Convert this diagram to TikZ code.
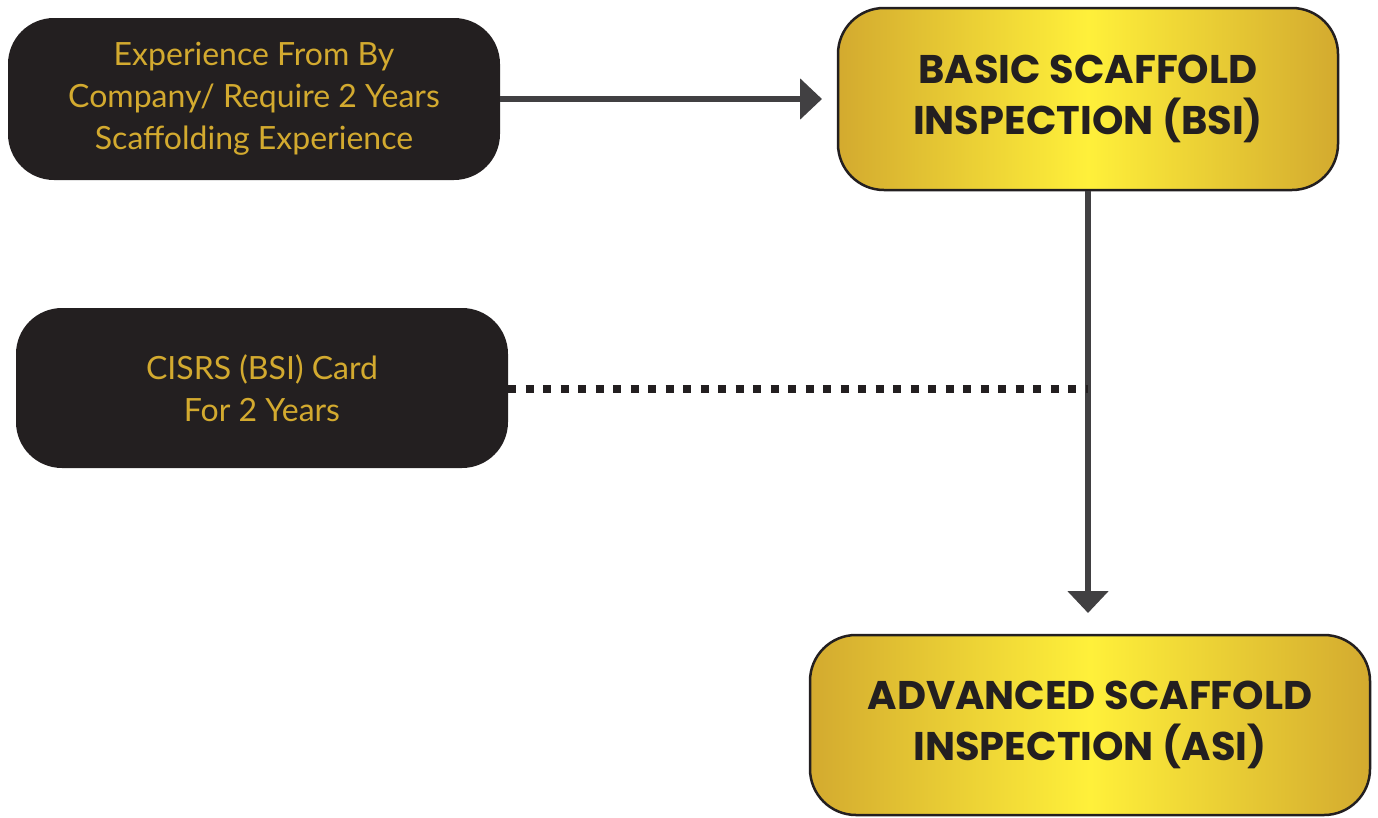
\documentclass[tikz,border=0pt]{standalone}
\usepackage{fontspec}
\setmainfont{Lato}
\newfontfamily\headfont{Poppins}
\usetikzlibrary{arrows.meta}
\definecolor{ink}{HTML}{231F20}
\definecolor{wire}{HTML}{414042}
\definecolor{gold}{HTML}{D3AA2F}
\definecolor{shine}{HTML}{FFF03A}
\begin{document}
\begin{tikzpicture}[x=1pt, y=-1pt, line join=round,
	darkbox/.style={draw=none, fill=ink, rounded corners=46pt, text=gold, align=center,
		font=\fontsize{32}{42}\selectfont, inner sep=0pt},
	goldbox/.style={draw=ink, line width=2.5pt, rounded corners=46pt, left color=gold, right color=gold,
		middle color=shine, text=ink, align=center, font=\headfont\bfseries\fontsize{40}{51}\selectfont, inner sep=0pt},
	link/.style={draw=wire, line width=6.5pt, -{Triangle[length=22pt, width=40pt]}}]
	\useasboundingbox (0,0) rectangle (1378,817);
	% boxes
	\node[darkbox, minimum width=492pt, minimum height=162pt] (exp) at (254,99)
		{Experience From By\\Company/ Require 2 Years\\Scaffolding Experience};
	\node[darkbox, minimum width=492pt, minimum height=160pt] (card) at (262,388)
		{CISRS (BSI) Card\\For 2 Years};
	\node[goldbox, minimum width=500pt, minimum height=182pt] (bsi) at (1088,99)
		{BASIC SCAFFOLD\\INSPECTION (BSI)};
	\node[goldbox, minimum width=560pt, minimum height=180pt] (asi) at (1090,725)
		{ADVANCED SCAFFOLD\\INSPECTION (ASI)};
	% links
	\coordinate (tip) at (1088,613);
	\coordinate (join) at (1088,389);
	\draw[link] (exp.east) -- (bsi.west -| 822,0);
	\draw[link] (bsi.south) -- (tip);
	\draw[ink, line width=8pt, dash pattern=on 8pt off 9.5pt] (card.east |- join) -- (join);
\end{tikzpicture}
\end{document}
